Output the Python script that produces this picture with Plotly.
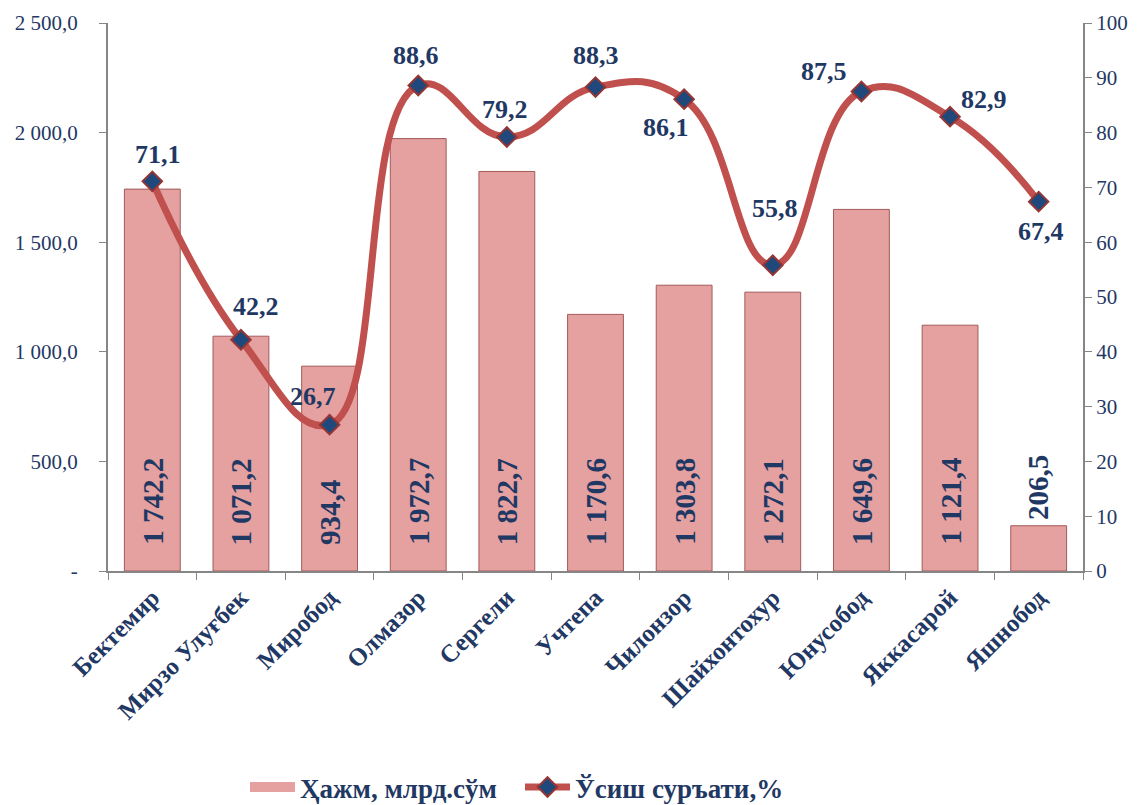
import plotly.graph_objects as go

categories = ["Бектемир", "Мирзо Улуғбек", "Миробод", "Олмазор", "Сергели", "Учтепа",
              "Чилонзор", "Шайхонтохур", "Юнусобод", "Яккасарой", "Яшнобод"]
volume = [1742.2, 1071.2, 934.4, 1972.7, 1822.7, 1170.6, 1303.8, 1272.1, 1649.6, 1121.4, 206.5]
volume_labels = ["1 742,2", "1 071,2", "934,4", "1 972,7", "1 822,7", "1 170,6",
                 "1 303,8", "1 272,1", "1 649,6", "1 121,4", "206,5"]
growth = [71.1, 42.2, 26.7, 88.6, 79.2, 88.3, 86.1, 55.8, 87.5, 82.9, 67.4]
growth_labels = ["71,1", "42,2", "26,7", "88,6", "79,2", "88,3", "86,1", "55,8", "87,5", "82,9", "67,4"]
left_ticks = [0, 500, 1000, 1500, 2000, 2500]
left_ticktext = ["-", "500,0", "1 000,0", "1 500,0", "2 000,0", "2 500,0"]
right_ticks = list(range(0, 101, 10))

# label offsets (pixels) of the growth labels relative to their markers
label_dx = [6, 15, -17, -2, -2, 0, -18, 2, -37, 34, 2]
label_dy = [27, 33, 28, 30, 27, 32, -28, 57, 20, 17, -30]

NAVY = "#1F3864"
FONT = "Liberation Serif"
BAR_COLOR = "#E5A0A0"

fig = go.Figure()
fig.add_trace(go.Bar(
    x=categories, y=volume, name="Ҳажм, млрд.сўм", showlegend=False,
    marker=dict(color=BAR_COLOR, line=dict(color="#A35A5A", width=1)),
    yaxis="y",
))
# legend proxy for the bar series (wide bar-like swatch)
fig.add_trace(go.Scatter(
    x=[None], y=[None], name="Ҳажм, млрд.сўм", mode="lines",
    line=dict(color=BAR_COLOR, width=12), yaxis="y",
))
fig.add_trace(go.Scatter(
    x=categories, y=growth, name="Ўсиш суръати,%", yaxis="y2",
    mode="lines+markers",
    line=dict(color="#C0504D", width=7, shape="spline", smoothing=1.3),
    marker=dict(symbol="diamond", size=15, color="#1F497D", line=dict(color="#943634", width=2)),
    cliponaxis=False,
))

for c, v, t, dx, dy in zip(categories, growth, growth_labels, label_dx, label_dy):
    fig.add_annotation(
        x=c, y=v, xref="x", yref="y2", text=t, showarrow=False,
        xshift=dx, yshift=dy,
        font=dict(family=FONT, size=26, color=NAVY, weight="bold"),
    )

for c, v, t in zip(categories, volume, volume_labels):
    inside = v > 500
    fig.add_annotation(
        x=c, y=0 if inside else v, xref="x", yref="y",
        text=t, textangle=-90, showarrow=False,
        yanchor="bottom", yshift=24 if inside else 4,
        font=dict(family=FONT, size=29, color=NAVY, weight="bold"),
    )

# page body has an 8px default margin; size the figure to fit the 1137x805 window
fig.update_layout(
    width=1129, height=797,
    margin=dict(l=100, r=54, t=15, b=234, autoexpand=False),
    plot_bgcolor="white", paper_bgcolor="white",
    bargap=0.37,
    font=dict(family=FONT, color=NAVY),
    xaxis=dict(
        range=[-0.5, len(categories) - 0.5],
        tickangle=-45, showline=True, linecolor="#868686", linewidth=2,
        ticks="outside", tickson="boundaries", ticklen=7, tickcolor="#868686",
        tickfont=dict(family=FONT, size=25, color=NAVY, weight="bold"),
        showgrid=False, automargin=False,
    ),
    yaxis=dict(
        range=[0, 2500], tickvals=left_ticks, ticktext=left_ticktext,
        showline=True, linecolor="#868686", linewidth=2,
        ticks="outside", ticklen=7, tickcolor="#868686",
        ticklabelstandoff=17,
        tickfont=dict(family=FONT, size=21, color=NAVY),
        showgrid=False, zeroline=False, automargin=False,
    ),
    yaxis2=dict(
        range=[0, 100], tickvals=right_ticks, overlaying="y", side="right",
        showline=True, linecolor="#868686", linewidth=2,
        ticks="outside", ticklen=7, tickcolor="#868686",
        tickfont=dict(family=FONT, size=21, color=NAVY),
        showgrid=False, zeroline=False, automargin=False,
    ),
    legend=dict(
        orientation="h", xref="container", yref="container",
        x=0.4535, xanchor="center", y=0.022, yanchor="middle",
        font=dict(family=FONT, size=27, color=NAVY, weight="bold"),
        itemwidth=45, entrywidth=215, traceorder="normal",
    ),
    showlegend=True,
)

fig.write_html("out.html")
